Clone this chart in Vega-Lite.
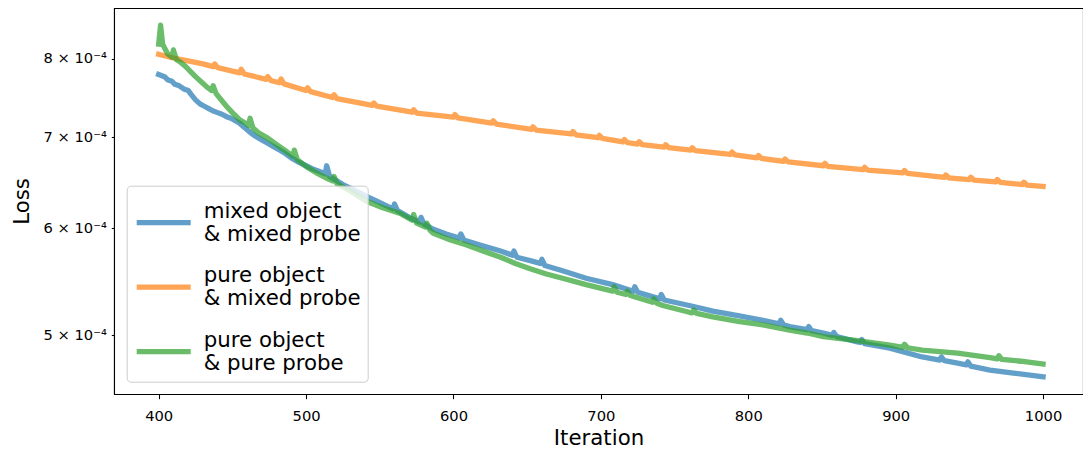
{
 "$schema": "https://vega.github.io/schema/vega-lite/v6.json",
 "width": 969, "height": 386,
 "autosize": {"type": "none"},
 "padding": {"left": 114, "top": 8, "right": 0, "bottom": 58},
 "background": "white",
 "config": {
  "font": "DejaVu Sans",
  "view": {"stroke": "black", "strokeWidth": 1.07},
  "axis": {"grid": false, "domainColor": "black", "domainWidth": 1.07, "tickColor": "black", "tickWidth": 1.07, "labelColor": "black", "labelFont": "DejaVu Sans", "labelFontSize": 14.7, "titleFont": "DejaVu Sans", "titleFontSize": 21.3, "titleFontWeight": "normal", "titleColor": "black"}
 },
 "encoding": {
  "x": {"field": "iteration", "type": "quantitative", "scale": {"domain": [369.7, 1027.1], "nice": false, "zero": false},
        "axis": {"title": "Iteration", "values": [400, 500, 600, 700, 800, 900, 1000], "format": "d", "tickSize": 4.7, "labelPadding": 9.5, "titlePadding": 4.5, "labelFlush": false, "labelOverlap": false}},
  "y": {"field": "loss", "type": "quantitative", "scale": {"type": "log", "domain": [4.526e-4, 8.72e-4], "nice": false},
        "axis": {"title": "Loss", "values": [5e-4, 6e-4, 7e-4, 8e-4], "labelExpr": "format(datum.value*10000, '.0f') + ' \u00d7 10\u207b\u2074'", "tickSize": 2.7, "labelPadding": 5, "titlePadding": 10, "labelFlush": false, "labelOverlap": false}}
 },
 "layer": [
  {
   "data": {"values": [
    {"iteration": 400, "loss": 7.79e-4}, {"iteration": 404, "loss": 7.76e-4}, {"iteration": 406, "loss": 7.72e-4}, {"iteration": 409, "loss": 7.70e-4},
    {"iteration": 411, "loss": 7.66e-4}, {"iteration": 414, "loss": 7.64e-4}, {"iteration": 417, "loss": 7.60e-4}, {"iteration": 420, "loss": 7.58e-4},
    {"iteration": 422, "loss": 7.53e-4}, {"iteration": 425, "loss": 7.46e-4}, {"iteration": 428, "loss": 7.41e-4}, {"iteration": 431, "loss": 7.38e-4},
    {"iteration": 434, "loss": 7.35e-4}, {"iteration": 437, "loss": 7.32e-4}, {"iteration": 440, "loss": 7.30e-4}, {"iteration": 443, "loss": 7.28e-4},
    {"iteration": 446, "loss": 7.25e-4}, {"iteration": 449, "loss": 7.23e-4}, {"iteration": 452, "loss": 7.20e-4}, {"iteration": 455, "loss": 7.17e-4},
    {"iteration": 458, "loss": 7.12e-4}, {"iteration": 462, "loss": 7.06e-4}, {"iteration": 466, "loss": 7.01e-4}, {"iteration": 470, "loss": 6.97e-4},
    {"iteration": 474, "loss": 6.93e-4}, {"iteration": 478, "loss": 6.89e-4}, {"iteration": 482, "loss": 6.85e-4}, {"iteration": 486, "loss": 6.81e-4},
    {"iteration": 490, "loss": 6.76e-4}, {"iteration": 495, "loss": 6.71e-4}, {"iteration": 500, "loss": 6.67e-4}, {"iteration": 505, "loss": 6.63e-4},
    {"iteration": 510, "loss": 6.60e-4}, {"iteration": 513, "loss": 6.58e-4}, {"iteration": 514, "loss": 6.67e-4}, {"iteration": 516, "loss": 6.55e-4},
    {"iteration": 520, "loss": 6.51e-4}, {"iteration": 525, "loss": 6.46e-4}, {"iteration": 530, "loss": 6.42e-4}, {"iteration": 535, "loss": 6.38e-4},
    {"iteration": 540, "loss": 6.34e-4}, {"iteration": 548, "loss": 6.28e-4}, {"iteration": 556, "loss": 6.22e-4}, {"iteration": 559, "loss": 6.20e-4},
    {"iteration": 560, "loss": 6.25e-4}, {"iteration": 562, "loss": 6.18e-4}, {"iteration": 570, "loss": 6.11e-4}, {"iteration": 577, "loss": 6.06e-4},
    {"iteration": 578, "loss": 6.11e-4}, {"iteration": 580, "loss": 6.04e-4}, {"iteration": 586, "loss": 5.99e-4}, {"iteration": 595, "loss": 5.94e-4},
    {"iteration": 604, "loss": 5.90e-4}, {"iteration": 605, "loss": 5.94e-4}, {"iteration": 607, "loss": 5.88e-4}, {"iteration": 618, "loss": 5.83e-4},
    {"iteration": 632, "loss": 5.77e-4}, {"iteration": 640, "loss": 5.73e-4}, {"iteration": 641, "loss": 5.77e-4}, {"iteration": 643, "loss": 5.71e-4},
    {"iteration": 654, "loss": 5.67e-4}, {"iteration": 659, "loss": 5.65e-4}, {"iteration": 660, "loss": 5.69e-4}, {"iteration": 662, "loss": 5.63e-4},
    {"iteration": 674, "loss": 5.58e-4}, {"iteration": 690, "loss": 5.51e-4}, {"iteration": 708, "loss": 5.45e-4}, {"iteration": 722, "loss": 5.39e-4},
    {"iteration": 723, "loss": 5.43e-4}, {"iteration": 725, "loss": 5.38e-4}, {"iteration": 740, "loss": 5.32e-4}, {"iteration": 741, "loss": 5.36e-4},
    {"iteration": 743, "loss": 5.31e-4}, {"iteration": 760, "loss": 5.26e-4}, {"iteration": 776, "loss": 5.21e-4}, {"iteration": 793, "loss": 5.17e-4},
    {"iteration": 810, "loss": 5.13e-4}, {"iteration": 821, "loss": 5.10e-4}, {"iteration": 822, "loss": 5.13e-4}, {"iteration": 824, "loss": 5.09e-4},
    {"iteration": 828, "loss": 5.075e-4}, {"iteration": 840, "loss": 5.05e-4}, {"iteration": 841, "loss": 5.075e-4}, {"iteration": 843, "loss": 5.04e-4},
    {"iteration": 851, "loss": 5.02e-4}, {"iteration": 857, "loss": 5.00e-4}, {"iteration": 858, "loss": 5.025e-4}, {"iteration": 860, "loss": 4.99e-4},
    {"iteration": 874, "loss": 4.945e-4}, {"iteration": 876, "loss": 4.94e-4}, {"iteration": 877, "loss": 4.965e-4}, {"iteration": 879, "loss": 4.93e-4},
    {"iteration": 896, "loss": 4.893e-4}, {"iteration": 918, "loss": 4.82e-4}, {"iteration": 930, "loss": 4.795e-4}, {"iteration": 931, "loss": 4.82e-4},
    {"iteration": 933, "loss": 4.79e-4}, {"iteration": 942, "loss": 4.77e-4}, {"iteration": 948, "loss": 4.755e-4}, {"iteration": 949, "loss": 4.78e-4},
    {"iteration": 951, "loss": 4.745e-4}, {"iteration": 964, "loss": 4.714e-4}, {"iteration": 980, "loss": 4.69e-4}, {"iteration": 1000, "loss": 4.66e-4}
   ]},
   "mark": {"type": "line", "strokeWidth": 5.3, "opacity": 0.7, "strokeCap": "square", "strokeJoin": "round"},
   "encoding": {
    "color": {"datum": "mixed object & mixed probe", "type": "nominal",
     "scale": {"domain": ["mixed object & mixed probe", "pure object & mixed probe", "pure object & pure probe"], "range": ["#1f77b4", "#ff7f0e", "#2ca02c"]},
     "legend": {"title": null, "orient": "none", "legendX": 12.7, "legendY": 177.7, "symbolType": "stroke", "symbolSize": 2916, "symbolStrokeWidth": 5.3, "symbolOpacity": 0.7,
      "labelFont": "DejaVu Sans", "labelFontSize": 21.3, "labelColor": "black", "labelLimit": 500, "labelOffset": 10, "labelBaseline": "line-bottom",
      "fillColor": "rgba(255,255,255,0.8)", "strokeColor": "#cccccc", "cornerRadius": 4, "padding": 7, "rowPadding": 11.5,
      "labelExpr": "[substring(datum.label, 0, indexof(datum.label, ' &')), substring(datum.label, indexof(datum.label, '&'))]"}}
   }
  },
  {
   "data": {"values": [
    {"iteration": 400, "loss": 8.06e-4}, {"iteration": 410, "loss": 8.01e-4}, {"iteration": 420, "loss": 7.97e-4}, {"iteration": 430, "loss": 7.93e-4},
    {"iteration": 437, "loss": 7.893e-4}, {"iteration": 438, "loss": 7.93e-4}, {"iteration": 440, "loss": 7.88e-4},
    {"iteration": 455, "loss": 7.81e-4}, {"iteration": 456, "loss": 7.86e-4}, {"iteration": 458, "loss": 7.795e-4},
    {"iteration": 473, "loss": 7.725e-4}, {"iteration": 474, "loss": 7.76e-4}, {"iteration": 476, "loss": 7.71e-4},
    {"iteration": 482, "loss": 7.68e-4}, {"iteration": 483, "loss": 7.73e-4}, {"iteration": 485, "loss": 7.665e-4},
    {"iteration": 500, "loss": 7.58e-4}, {"iteration": 501, "loss": 7.615e-4}, {"iteration": 503, "loss": 7.565e-4},
    {"iteration": 518, "loss": 7.49e-4}, {"iteration": 519, "loss": 7.525e-4}, {"iteration": 521, "loss": 7.475e-4},
    {"iteration": 545, "loss": 7.39e-4}, {"iteration": 546, "loss": 7.42e-4}, {"iteration": 548, "loss": 7.38e-4},
    {"iteration": 572, "loss": 7.305e-4}, {"iteration": 573, "loss": 7.335e-4}, {"iteration": 575, "loss": 7.295e-4},
    {"iteration": 600, "loss": 7.245e-4}, {"iteration": 601, "loss": 7.275e-4}, {"iteration": 603, "loss": 7.235e-4},
    {"iteration": 626, "loss": 7.17e-4}, {"iteration": 627, "loss": 7.20e-4}, {"iteration": 629, "loss": 7.16e-4},
    {"iteration": 653, "loss": 7.095e-4}, {"iteration": 654, "loss": 7.125e-4}, {"iteration": 656, "loss": 7.087e-4},
    {"iteration": 680, "loss": 7.04e-4}, {"iteration": 681, "loss": 7.068e-4}, {"iteration": 683, "loss": 7.03e-4},
    {"iteration": 698, "loss": 6.995e-4}, {"iteration": 699, "loss": 7.023e-4}, {"iteration": 701, "loss": 6.988e-4},
    {"iteration": 715, "loss": 6.945e-4}, {"iteration": 716, "loss": 6.973e-4}, {"iteration": 718, "loss": 6.938e-4},
    {"iteration": 725, "loss": 6.92e-4}, {"iteration": 726, "loss": 6.948e-4}, {"iteration": 728, "loss": 6.913e-4},
    {"iteration": 743, "loss": 6.885e-4}, {"iteration": 744, "loss": 6.913e-4}, {"iteration": 746, "loss": 6.878e-4},
    {"iteration": 761, "loss": 6.85e-4}, {"iteration": 762, "loss": 6.877e-4}, {"iteration": 764, "loss": 6.843e-4},
    {"iteration": 788, "loss": 6.80e-4}, {"iteration": 789, "loss": 6.827e-4}, {"iteration": 791, "loss": 6.793e-4},
    {"iteration": 806, "loss": 6.76e-4}, {"iteration": 807, "loss": 6.787e-4}, {"iteration": 809, "loss": 6.753e-4},
    {"iteration": 824, "loss": 6.72e-4}, {"iteration": 825, "loss": 6.747e-4}, {"iteration": 827, "loss": 6.713e-4},
    {"iteration": 851, "loss": 6.67e-4}, {"iteration": 852, "loss": 6.697e-4}, {"iteration": 854, "loss": 6.663e-4},
    {"iteration": 878, "loss": 6.625e-4}, {"iteration": 879, "loss": 6.652e-4}, {"iteration": 881, "loss": 6.62e-4},
    {"iteration": 905, "loss": 6.59e-4}, {"iteration": 906, "loss": 6.616e-4}, {"iteration": 908, "loss": 6.583e-4},
    {"iteration": 933, "loss": 6.54e-4}, {"iteration": 934, "loss": 6.566e-4}, {"iteration": 936, "loss": 6.535e-4},
    {"iteration": 950, "loss": 6.515e-4}, {"iteration": 951, "loss": 6.541e-4}, {"iteration": 953, "loss": 6.51e-4},
    {"iteration": 968, "loss": 6.49e-4}, {"iteration": 969, "loss": 6.516e-4}, {"iteration": 971, "loss": 6.485e-4},
    {"iteration": 986, "loss": 6.46e-4}, {"iteration": 987, "loss": 6.486e-4}, {"iteration": 989, "loss": 6.455e-4},
    {"iteration": 1000, "loss": 6.44e-4}
   ]},
   "mark": {"type": "line", "strokeWidth": 5.3, "opacity": 0.7, "strokeCap": "square", "strokeJoin": "round"},
   "encoding": {"color": {"datum": "pure object & mixed probe", "type": "nominal"}}
  },
  {
   "data": {"values": [
    {"iteration": 400, "loss": 8.20e-4}, {"iteration": 401.3, "loss": 8.47e-4}, {"iteration": 402.7, "loss": 8.20e-4}, {"iteration": 406, "loss": 8.07e-4},
    {"iteration": 409, "loss": 8.02e-4}, {"iteration": 410, "loss": 8.12e-4}, {"iteration": 412, "loss": 7.99e-4}, {"iteration": 415, "loss": 7.95e-4},
    {"iteration": 418, "loss": 7.90e-4}, {"iteration": 421, "loss": 7.84e-4}, {"iteration": 425, "loss": 7.76e-4}, {"iteration": 429, "loss": 7.69e-4},
    {"iteration": 433, "loss": 7.62e-4}, {"iteration": 436, "loss": 7.58e-4}, {"iteration": 437, "loss": 7.64e-4}, {"iteration": 439, "loss": 7.54e-4},
    {"iteration": 442, "loss": 7.47e-4}, {"iteration": 446, "loss": 7.38e-4}, {"iteration": 450, "loss": 7.30e-4}, {"iteration": 455, "loss": 7.21e-4},
    {"iteration": 459, "loss": 7.17e-4}, {"iteration": 461, "loss": 7.14e-4}, {"iteration": 462, "loss": 7.23e-4}, {"iteration": 464, "loss": 7.11e-4},
    {"iteration": 468, "loss": 7.05e-4}, {"iteration": 474, "loss": 6.99e-4}, {"iteration": 478, "loss": 6.94e-4}, {"iteration": 482, "loss": 6.89e-4},
    {"iteration": 487, "loss": 6.83e-4}, {"iteration": 491, "loss": 6.78e-4}, {"iteration": 492, "loss": 6.85e-4}, {"iteration": 494, "loss": 6.74e-4},
    {"iteration": 501, "loss": 6.65e-4}, {"iteration": 507, "loss": 6.59e-4}, {"iteration": 514, "loss": 6.53e-4}, {"iteration": 518, "loss": 6.50e-4},
    {"iteration": 519, "loss": 6.55e-4}, {"iteration": 521, "loss": 6.47e-4}, {"iteration": 530, "loss": 6.39e-4}, {"iteration": 541, "loss": 6.28e-4},
    {"iteration": 552, "loss": 6.21e-4}, {"iteration": 564, "loss": 6.15e-4}, {"iteration": 572, "loss": 6.08e-4}, {"iteration": 573, "loss": 6.14e-4},
    {"iteration": 575, "loss": 6.05e-4}, {"iteration": 581, "loss": 6.01e-4}, {"iteration": 582, "loss": 6.05e-4}, {"iteration": 584, "loss": 5.98e-4},
    {"iteration": 586, "loss": 5.95e-4}, {"iteration": 598, "loss": 5.88e-4}, {"iteration": 609, "loss": 5.83e-4}, {"iteration": 620, "loss": 5.77e-4},
    {"iteration": 632, "loss": 5.71e-4}, {"iteration": 642, "loss": 5.65e-4}, {"iteration": 652, "loss": 5.60e-4}, {"iteration": 663, "loss": 5.55e-4},
    {"iteration": 674, "loss": 5.51e-4}, {"iteration": 690, "loss": 5.45e-4}, {"iteration": 708, "loss": 5.39e-4}, {"iteration": 709, "loss": 5.43e-4},
    {"iteration": 711, "loss": 5.38e-4}, {"iteration": 717, "loss": 5.36e-4}, {"iteration": 718, "loss": 5.39e-4}, {"iteration": 720, "loss": 5.35e-4},
    {"iteration": 735, "loss": 5.29e-4}, {"iteration": 736, "loss": 5.32e-4}, {"iteration": 738, "loss": 5.28e-4}, {"iteration": 742, "loss": 5.26e-4},
    {"iteration": 760, "loss": 5.20e-4}, {"iteration": 762, "loss": 5.195e-4}, {"iteration": 763, "loss": 5.22e-4}, {"iteration": 765, "loss": 5.19e-4},
    {"iteration": 776, "loss": 5.16e-4}, {"iteration": 793, "loss": 5.12e-4}, {"iteration": 810, "loss": 5.09e-4}, {"iteration": 828, "loss": 5.045e-4},
    {"iteration": 840, "loss": 5.02e-4}, {"iteration": 851, "loss": 4.99e-4}, {"iteration": 874, "loss": 4.955e-4}, {"iteration": 896, "loss": 4.918e-4},
    {"iteration": 905, "loss": 4.90e-4}, {"iteration": 906, "loss": 4.925e-4}, {"iteration": 908, "loss": 4.896e-4}, {"iteration": 918, "loss": 4.876e-4},
    {"iteration": 942, "loss": 4.852e-4}, {"iteration": 964, "loss": 4.815e-4}, {"iteration": 969, "loss": 4.805e-4}, {"iteration": 970, "loss": 4.83e-4},
    {"iteration": 972, "loss": 4.80e-4}, {"iteration": 985, "loss": 4.785e-4}, {"iteration": 1000, "loss": 4.762e-4}
   ]},
   "mark": {"type": "line", "strokeWidth": 5.3, "opacity": 0.7, "strokeCap": "square", "strokeJoin": "round"},
   "encoding": {"color": {"datum": "pure object & pure probe", "type": "nominal"}}
  }
 ]
}
